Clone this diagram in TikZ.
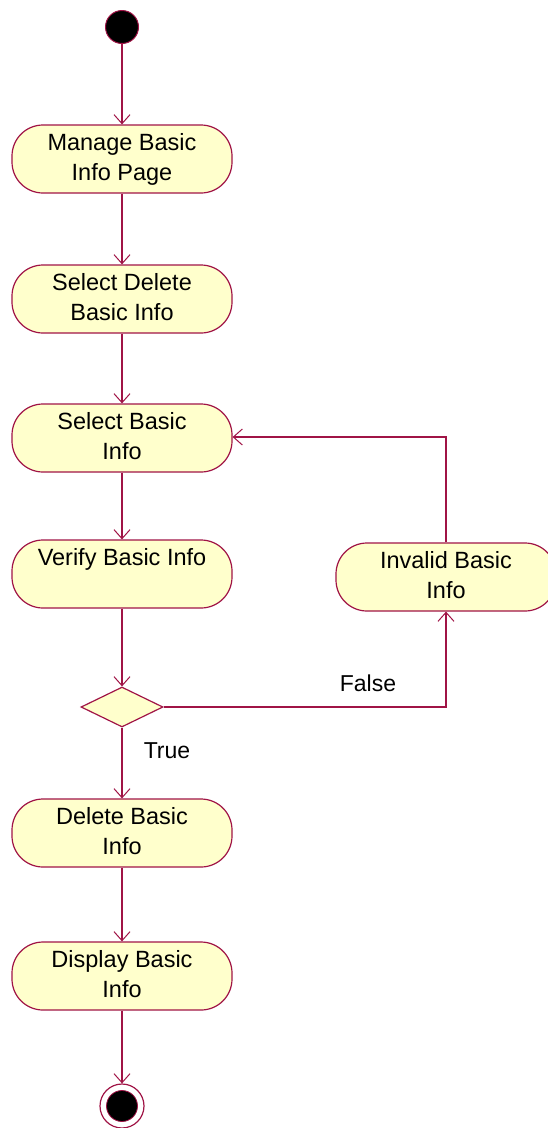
\documentclass[tikz,border=0pt]{standalone}
\usepackage{fontspec}
\setmainfont{Liberation Sans}
\usetikzlibrary{arrows.meta,shapes.geometric}
\definecolor{umlline}{RGB}{160,20,70}
\definecolor{umlfill}{RGB}{255,255,204}
\newcommand{\twolines}[2]{\raisebox{1.5pt}{\begin{tabular}{@{}c@{}}#1\\#2\end{tabular}}}
\begin{document}
\begin{tikzpicture}[x=1pt,y=-1pt,
  actbox/.style={draw=umlline,fill=umlfill,line width=1.2pt,rounded corners=31pt,
    minimum width=220pt,minimum height=68pt,align=center,inner sep=0pt,
    font=\fontsize{23.5}{30}\selectfont},
  flow/.style={draw=umlline,line width=1.2pt,-{Straight Barb[length=9pt,width=16pt,line width=1pt]}},
  lbl/.style={font=\fontsize{23}{26}\selectfont,inner sep=0pt}]
\useasboundingbox (0,0) rectangle (548,1128);
\clip (0,0) rectangle (548,1128);
\node[circle,fill=black,draw=umlline,line width=1pt,minimum size=33pt,inner sep=0pt] (start) at (122,27) {};
\node[actbox] (manage) at (122,159) {\twolines{Manage Basic}{Info Page}};
\node[actbox] (seldel) at (122,299) {\twolines{Select Delete}{Basic Info}};
\node[actbox] (sel) at (122,438) {\twolines{Select Basic}{Info}};
\node[actbox] (verify) at (122,574) {\twolines{Verify Basic Info}{\mbox{}}};
\node[actbox] (invalid) at (446,577) {\twolines{Invalid Basic}{Info}};
\node[diamond,draw=umlline,fill=umlfill,line width=1.2pt,minimum width=82pt,minimum height=40pt,inner sep=0pt,aspect=2] (dec) at (122,707) {};
\node[actbox] (delete) at (122,833) {\twolines{Delete Basic}{Info}};
\node[actbox] (display) at (122,976) {\twolines{Display Basic}{Info}};
\node[circle,draw=umlline,fill=white,line width=1.2pt,minimum size=44pt,inner sep=0pt] (end) at (122,1106) {};
\node[circle,fill=black,draw=umlline,line width=0.8pt,minimum size=31pt,inner sep=0pt] (endin) at (122,1106) {};
\coordinate (loopc) at (446,437);
\coordinate (falsec) at (446,707);
\draw[flow] (start) -- (manage);
\draw[flow] (manage) -- (seldel);
\draw[flow] (seldel) -- (sel);
\draw[flow] (sel) -- (verify);
\draw[flow] (verify) -- (dec);
\draw[flow] (dec.east) -- (falsec) -- (invalid.south);
\draw[flow] (invalid.north) -- (loopc) -- (sel.east |- loopc);
\draw[flow] (dec) -- (delete);
\draw[flow] (delete) -- (display);
\draw[flow] (display) -- (end);
\node[lbl] (falselbl) at (368,683) {False};
\node[lbl] (truelbl) at (167,751) {True};
\end{tikzpicture}
\end{document}
